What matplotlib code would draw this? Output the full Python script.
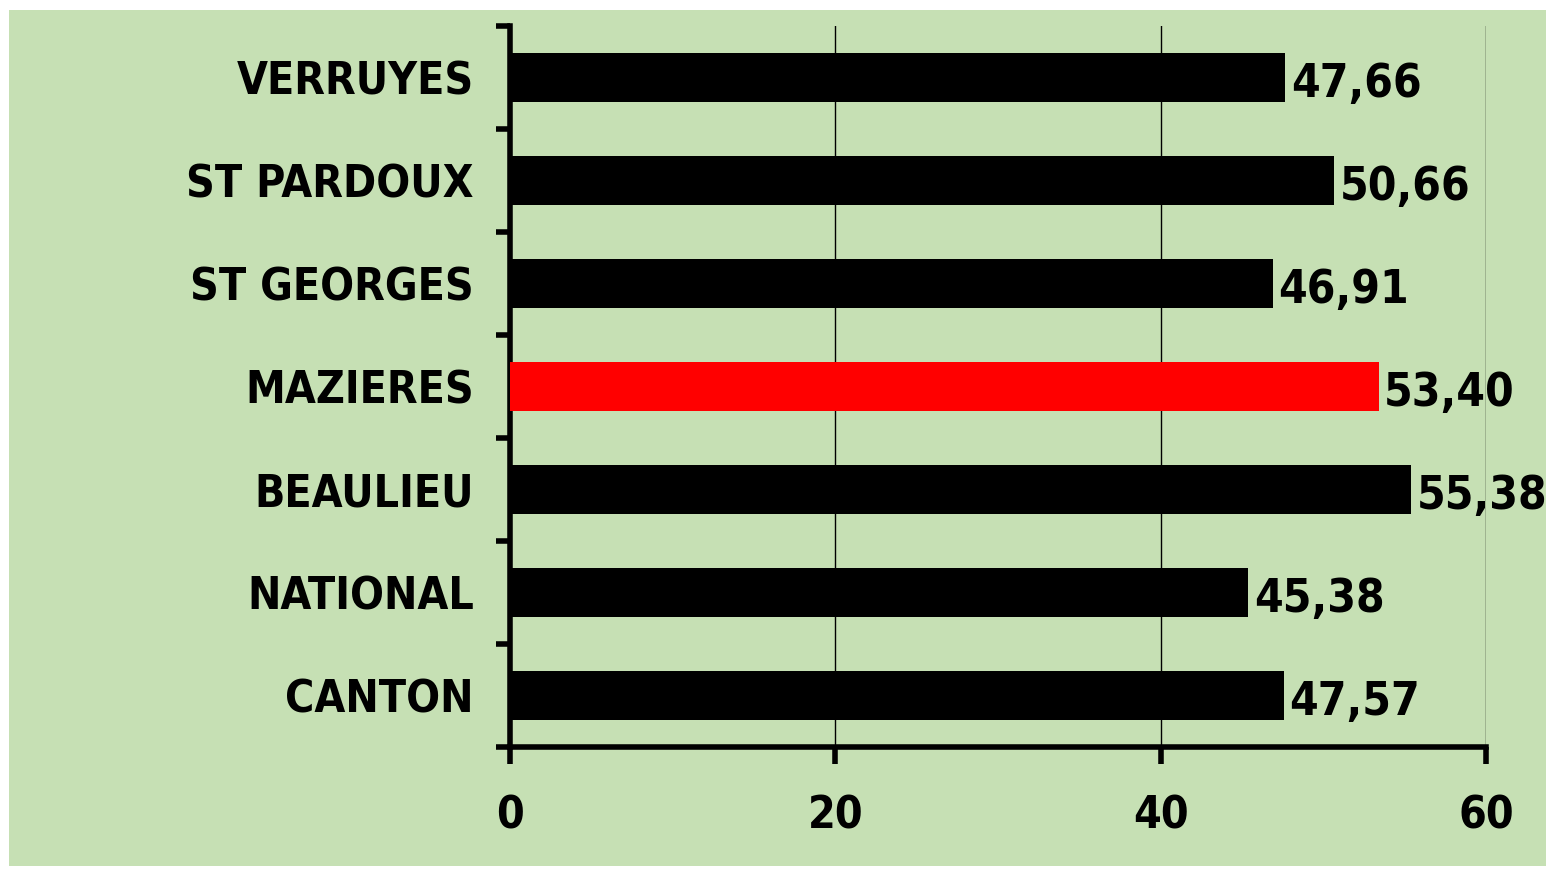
import numpy as np
import matplotlib.pyplot as plt
from matplotlib.patches import Rectangle

plt.rcParams['font.family'] = ['DejaVu Sans']
plt.rcParams['font.stretch'] = 'condensed'
plt.rcParams['font.weight'] = 'bold'

# données
communes = ['VERRUYES', 'ST PARDOUX', 'ST GEORGES', 'MAZIERES', 'BEAULIEU', 'NATIONAL', 'CANTON']
valeurs = [47.66, 50.66, 46.91, 53.40, 55.38, 45.38, 47.57]
couleurs = ['black', 'black', 'black', 'red', 'black', 'black', 'black']
graduations = [0, 20, 40, 60]

fig = plt.figure(figsize=(15.48, 8.69), dpi=100)
fig.patch.set_facecolor('white')
# fond vert (derrière les axes)
fig.patches.append(Rectangle((9 / 1548, 3 / 869), 1537 / 1548, 856 / 869,
                             transform=fig.transFigure, facecolor='#C6E0B4',
                             edgecolor='none', zorder=-10))

ax = fig.add_axes([510 / 1548, 1 - 747 / 869, 976 / 1548, 721 / 869])
ax.set_facecolor('none')

y = np.arange(len(communes))
ax.barh(y, valeurs, height=0.47, color=couleurs, zorder=3)

# étiquettes de valeur (virgule décimale)
for yi, v in zip(y, valeurs):
    ax.annotate(f'{v:.2f}'.replace('.', ','), (v, yi), xytext=(4, -5),
                textcoords='offset points', ha='left', va='center',
                fontsize=33, fontweight='bold', zorder=4)

ax.set_xlim(0, 60)
ax.set_ylim(len(communes) - 0.5, -0.5)
ax.set_xticks(graduations)
ax.set_xticklabels([str(g) for g in graduations], fontsize=32, fontweight='bold')
ax.set_yticks(y)
ax.set_yticklabels(communes, fontsize=32, fontweight='bold')
ax.set_yticks(np.arange(-0.5, len(communes)), minor=True)

ax.tick_params(axis='y', which='major', length=0, pad=26)
ax.tick_params(axis='y', which='minor', length=10, width=4, direction='out')
ax.tick_params(axis='x', length=12, width=4, direction='out', pad=22)

ax.xaxis.grid(True, color='black', linewidth=1)
ax.set_axisbelow(True)
for s in ['top', 'right']:
    ax.spines[s].set_visible(False)
for s in ['left', 'bottom']:
    ax.spines[s].set_linewidth(4)

fig.savefig('out.png', dpi=100)
